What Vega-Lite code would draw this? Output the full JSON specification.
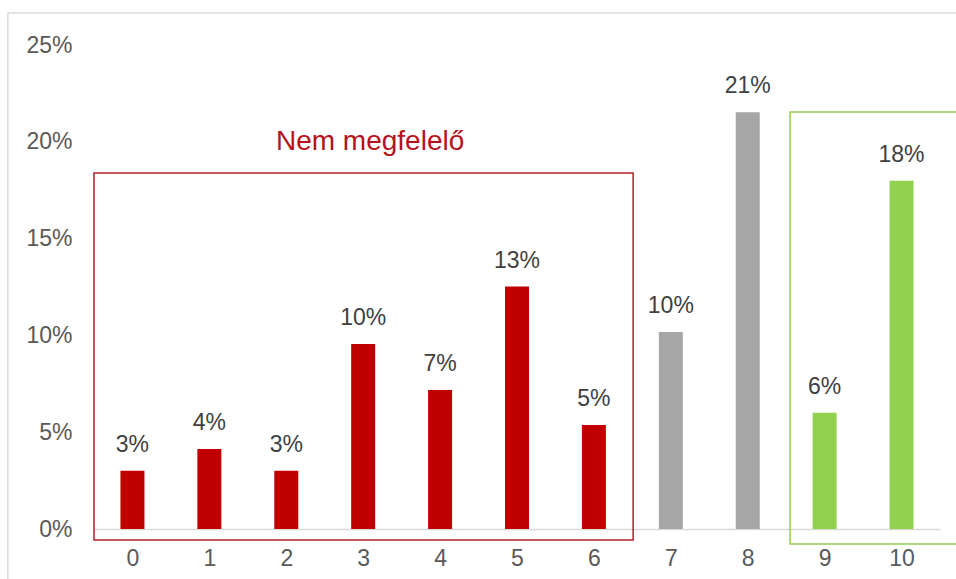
{
  "$schema": "https://vega.github.io/schema/vega-lite/v6.json",
  "autosize": {"type": "none"},
  "width": 846,
  "height": 484,
  "padding": {"left": 94, "top": 45, "right": 16, "bottom": 50},
  "background": "white",
  "config": {
    "view": {"stroke": null},
    "font": "Liberation Sans",
    "axis": {"labelFont": "Liberation Sans", "labelColor": "#595959", "labelFontSize": 23, "ticks": false, "grid": false, "title": null}
  },
  "datasets": {
    "bars": [
      {"score": 0, "share": 0.0301, "label": "3%", "group": "bad"},
      {"score": 1, "share": 0.0413, "label": "4%", "group": "bad"},
      {"score": 2, "share": 0.0301, "label": "3%", "group": "bad"},
      {"score": 3, "share": 0.0956, "label": "10%", "group": "bad"},
      {"score": 4, "share": 0.0718, "label": "7%", "group": "bad"},
      {"score": 5, "share": 0.1252, "label": "13%", "group": "bad"},
      {"score": 6, "share": 0.0537, "label": "5%", "group": "bad"},
      {"score": 7, "share": 0.1018, "label": "10%", "group": "neutral"},
      {"score": 8, "share": 0.2152, "label": "21%", "group": "neutral"},
      {"score": 9, "share": 0.0601, "label": "6%", "group": "good"},
      {"score": 10, "share": 0.1799, "label": "18%", "group": "good"}
    ],
    "boxes": [
      {"kind": "frame", "x0": -1.62, "x1": 12.5, "y0": -0.12, "y1": 0.2665},
      {"kind": "bad", "x0": -0.5, "x1": 6.51, "y0": -0.0057, "y1": 0.1839},
      {"kind": "good", "x0": 8.55, "x1": 11.5, "y0": -0.0077, "y1": 0.2154}
    ],
    "notes": [
      {"text": "Nem megfelelő", "x": 3.09, "y": 0.2}
    ]
  },
  "layer": [
    {
      "data": {"name": "boxes"},
      "mark": {"type": "rect", "fill": null, "fillOpacity": 0, "strokeWidth": 1.5, "clip": false},
      "encoding": {
        "x": {"field": "x0", "type": "quantitative", "scale": {"domain": [-0.5, 10.5], "nice": false, "zero": false, "padding": 0}, "axis": {"values": [0,1,2,3,4,5,6,7,8,9,10], "format": "d", "domainColor": "#d9d9d9", "domainWidth": 1.5, "labelPadding": 18}},
        "x2": {"field": "x1"},
        "y": {"field": "y0", "type": "quantitative", "scale": {"domain": [0, 0.25], "nice": false, "padding": 0}, "axis": {"values": [0, 0.05, 0.1, 0.15, 0.2, 0.25], "format": ".0%", "domain": false, "labelPadding": 22}},
        "y2": {"field": "y1"},
        "stroke": {"field": "kind", "type": "nominal", "scale": {"domain": ["frame", "bad", "good"], "range": ["#dcdcdc", "#b0202a", "#92d050"]}, "legend": null}
      }
    },
    {
      "data": {"name": "bars"},
      "mark": {"type": "bar", "width": 24},
      "encoding": {
        "x": {"field": "score", "type": "quantitative"},
        "y": {"field": "share", "type": "quantitative"},
        "color": {"field": "group", "type": "nominal", "scale": {"domain": ["bad", "neutral", "good"], "range": ["#c00000", "#a6a6a6", "#92d050"]}, "legend": null}
      }
    },
    {
      "data": {"name": "bars"},
      "mark": {"type": "text", "fontSize": 23, "color": "#404040", "baseline": "alphabetic", "dy": -19},
      "encoding": {
        "x": {"field": "score", "type": "quantitative"},
        "y": {"field": "share", "type": "quantitative"},
        "text": {"field": "label"}
      }
    },
    {
      "data": {"name": "notes"},
      "mark": {"type": "text", "fontSize": 28, "color": "#b5121b", "baseline": "middle", "align": "center", "clip": false},
      "encoding": {
        "x": {"field": "x", "type": "quantitative"},
        "y": {"field": "y", "type": "quantitative"},
        "text": {"field": "text"}
      }
    }
  ]
}
